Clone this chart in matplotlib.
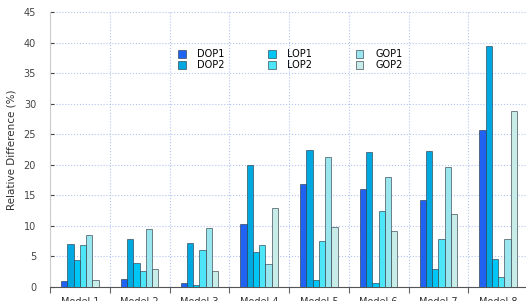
import numpy as np
import matplotlib
matplotlib.use("Agg")
import matplotlib.pyplot as plt

models = ["Model 1", "Model 2", "Model 3", "Model 4",
          "Model 5", "Model 6", "Model 7", "Model 8"]
series = ["DOP1", "DOP2", "LOP1", "LOP2", "GOP1", "GOP2"]

dop1 = [1.0, 1.35, 0.6, 10.35, 16.9, 16.0, 14.2, 25.65]
dop2 = [7.0, 7.85, 7.2, 19.9, 22.5, 22.1, 22.3, 39.4]
lop1 = [4.35, 4.0, 0.35, 5.7, 1.1, 0.7, 2.9, 4.6]
lop2 = [6.9, 2.55, 6.05, 6.8, 7.6, 12.5, 7.8, 1.6]
gop1 = [8.45, 9.5, 9.6, 3.8, 21.2, 18.0, 19.6, 7.8]
gop2 = [1.2, 2.95, 2.6, 13.0, 9.8, 9.2, 12.0, 28.8]

colors = ["#2062f2", "#00a8e2", "#00c6f6", "#4ce6f8", "#9ae6ee", "#c8ece8"]

fig = plt.figure(figsize=(5.26, 3.01), dpi=100)
ax = fig.add_axes([50 / 526, 14 / 301, 478 / 526, 275 / 301])

x = np.arange(len(models)) + 0.5
w = 0.104
data = [dop1, dop2, lop1, lop2, gop1, gop2]
for k, (name, vals) in enumerate(zip(series, data)):
    ax.bar(x + (k - 2.5) * w, vals, w, color=colors[k], label=name,
           edgecolor=(0.15, 0.2, 0.25, 0.6), linewidth=0.7, zorder=3)

ax.set_xlim(0, 8)
ax.set_ylim(0, 45)
ax.set_yticks(np.arange(0, 46, 5))
ax.set_xticks(np.arange(0, 9))
ax.set_xticklabels([])
ax.set_xticks(x, minor=True)
ax.set_xticklabels(models, minor=True, fontsize=7, color="#333333")
ax.tick_params(axis="x", which="minor", length=0, pad=7)
ax.tick_params(axis="x", which="major", length=4, color="#666666", direction="out")
ax.tick_params(axis="y", length=3, color="#444444", direction="in",
               labelsize=7, labelcolor="#444444", pad=10)

ax.grid(True, which="major", linestyle=":", color="#b4c4f0", linewidth=0.8, zorder=0)
ax.set_axisbelow(True)

for s in ["top", "right"]:
    ax.spines[s].set_visible(False)
ax.spines["left"].set_color("#cccccc")
ax.spines["bottom"].set_color("#555555")

ax.set_ylabel("Relative Difference (%)", fontsize=7.5, color="#333333", labelpad=5)

ax.legend(ncol=3, frameon=False, fontsize=7, loc="upper left",
          bbox_to_anchor=(119 / 478, 0.896), handlelength=0.8, handleheight=0.8,
          columnspacing=4.45, labelspacing=0.1, handletextpad=1.2)

fig.savefig("out.png", dpi=100)
